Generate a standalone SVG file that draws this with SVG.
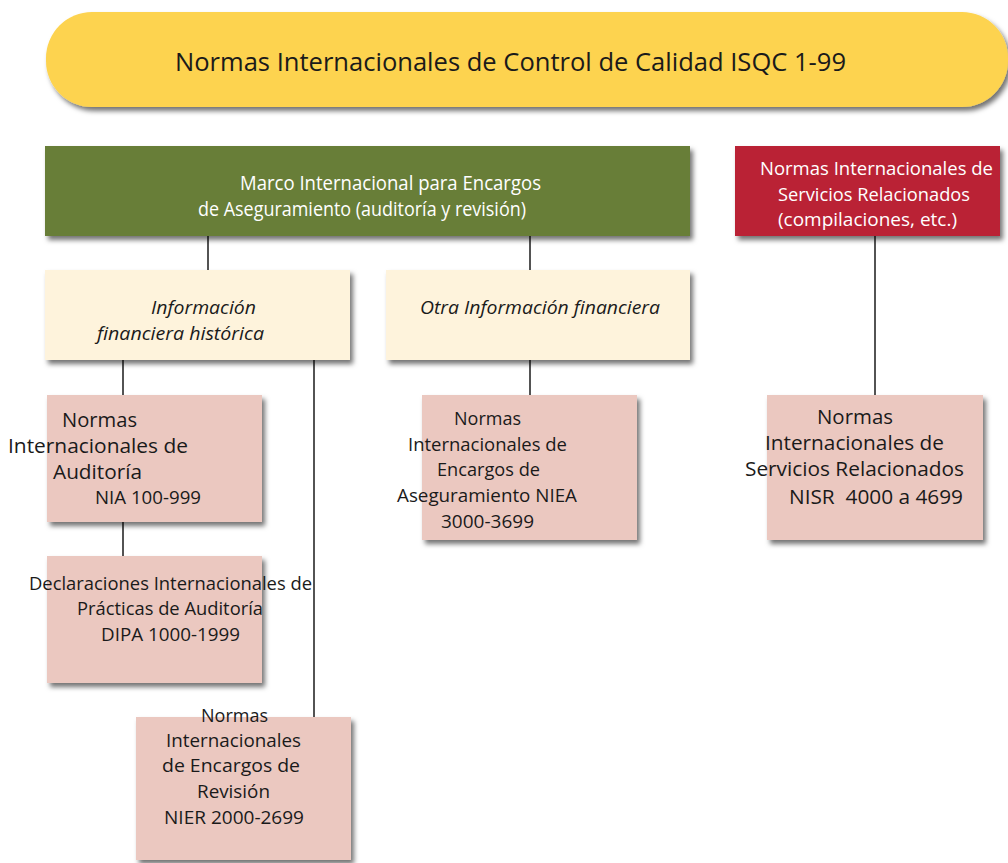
<svg xmlns="http://www.w3.org/2000/svg" width="1008" height="863" viewBox="0 0 1008 863">
  <defs>
    <filter id="shadow" x="-10%" y="-10%" width="125%" height="130%">
      <feDropShadow dx="3" dy="4" stdDeviation="2.5" flood-color="#000" flood-opacity="0.55"/>
    </filter>
  </defs>
  <style>
    text { font-family: "Open Sans", "Noto Sans", "Liberation Sans", sans-serif; fill: #1a1a1a; }
    .box { filter: url(#shadow); }
    .gold { fill: #FDD34F; }
    .green { fill: #687E37; }
    .red { fill: #BA2236; }
    .cream { fill: #FEF3DC; }
    .pink { fill: #EBC8C0; }
    .light { fill: #ffffff; }
    .it { font-style: italic; }
    .conn line { stroke: #1a1a1a; stroke-width: 1.5; }
  </style>

  <!-- connectors -->
  <g id="connectors" class="conn">
    <line x1="208" y1="236" x2="208" y2="270"/>
    <line x1="530" y1="236" x2="530" y2="270"/>
    <line x1="875" y1="236" x2="875" y2="395"/>
    <line x1="123" y1="360" x2="123" y2="395"/>
    <line x1="314" y1="360" x2="314" y2="717"/>
    <line x1="530" y1="360" x2="530" y2="395"/>
    <line x1="123" y1="522" x2="123" y2="556"/>
  </g>

  <!-- quality control standards banner -->
  <g id="isqc">
    <rect class="box gold" x="46" y="12" width="962" height="95" rx="46" ry="46"/>
    <text x="175" y="71" font-size="26" textLength="671" lengthAdjust="spacingAndGlyphs">Normas Internacionales de Control de Calidad ISQC 1-99</text>
  </g>

  <!-- assurance framework -->
  <g id="marco">
    <rect class="box green" x="45" y="146" width="645" height="90"/>
    <text class="light" x="240" y="190" font-size="20" textLength="301" lengthAdjust="spacingAndGlyphs">Marco Internacional para Encargos</text>
    <text class="light" x="198" y="216" font-size="20" textLength="328" lengthAdjust="spacingAndGlyphs">de Aseguramiento (auditoría y revisión)</text>
  </g>

  <!-- related services -->
  <g id="servicios">
    <rect class="box red" x="735" y="146" width="265" height="90"/>
    <text class="light" x="760" y="175" font-size="19" textLength="233" lengthAdjust="spacingAndGlyphs">Normas Internacionales de</text>
    <text class="light" x="778" y="201" font-size="19" textLength="192" lengthAdjust="spacingAndGlyphs">Servicios Relacionados</text>
    <text class="light" x="778" y="226" font-size="19" textLength="179" lengthAdjust="spacingAndGlyphs">(compilaciones, etc.)</text>
  </g>

  <!-- historical financial information -->
  <g id="historica">
    <rect class="box cream" x="45" y="270" width="305" height="90"/>
    <text class="it" x="151" y="314" font-size="18" textLength="105" lengthAdjust="spacingAndGlyphs">Información</text>
    <text class="it" x="97" y="340" font-size="18" textLength="167" lengthAdjust="spacingAndGlyphs">financiera histórica</text>
  </g>

  <!-- other financial information -->
  <g id="otra">
    <rect class="box cream" x="386" y="270" width="304" height="90"/>
    <text class="it" x="420" y="314" font-size="18" textLength="240" lengthAdjust="spacingAndGlyphs">Otra Información financiera</text>
  </g>

  <!-- auditing standards -->
  <g id="nia">
    <rect class="box pink" x="47" y="395" width="215" height="127"/>
    <text x="62" y="427" font-size="20" textLength="75" lengthAdjust="spacingAndGlyphs">Normas</text>
    <text x="8" y="453" font-size="20" textLength="180" lengthAdjust="spacingAndGlyphs">Internacionales de</text>
    <text x="53" y="479" font-size="20" textLength="89" lengthAdjust="spacingAndGlyphs">Auditoría</text>
    <text x="95" y="504" font-size="18" textLength="106" lengthAdjust="spacingAndGlyphs">NIA 100-999</text>
  </g>

  <!-- auditing practice statements -->
  <g id="dipa">
    <rect class="box pink" x="47" y="556" width="215" height="127"/>
    <text x="29" y="590" font-size="18" textLength="283" lengthAdjust="spacingAndGlyphs">Declaraciones Internacionales de</text>
    <text x="77" y="615" font-size="18" textLength="186" lengthAdjust="spacingAndGlyphs">Prácticas de Auditoría</text>
    <text x="101" y="641" font-size="18" textLength="139" lengthAdjust="spacingAndGlyphs">DIPA 1000-1999</text>
  </g>

  <!-- review engagements -->
  <g id="nier">
    <rect class="box pink" x="136" y="717" width="215" height="143"/>
    <text x="201" y="722" font-size="18" textLength="67" lengthAdjust="spacingAndGlyphs">Normas</text>
    <text x="166" y="747" font-size="18" textLength="135" lengthAdjust="spacingAndGlyphs">Internacionales</text>
    <text x="162" y="772" font-size="18" textLength="138" lengthAdjust="spacingAndGlyphs">de Encargos de</text>
    <text x="197" y="798" font-size="18" textLength="73" lengthAdjust="spacingAndGlyphs">Revisión</text>
    <text x="164" y="824" font-size="18" textLength="140" lengthAdjust="spacingAndGlyphs">NIER 2000-2699</text>
  </g>

  <!-- assurance engagements -->
  <g id="niea">
    <rect class="box pink" x="422" y="395" width="215" height="145"/>
    <text x="454" y="425" font-size="18" textLength="67" lengthAdjust="spacingAndGlyphs">Normas</text>
    <text x="408" y="451" font-size="18" textLength="159" lengthAdjust="spacingAndGlyphs">Internacionales de</text>
    <text x="437" y="476" font-size="18" textLength="103" lengthAdjust="spacingAndGlyphs">Encargos de</text>
    <text x="397" y="502" font-size="18" textLength="180" lengthAdjust="spacingAndGlyphs">Aseguramiento NIEA</text>
    <text x="441" y="528" font-size="18" textLength="93" lengthAdjust="spacingAndGlyphs">3000-3699</text>
  </g>

  <!-- related services standards -->
  <g id="nisr">
    <rect class="box pink" x="767" y="395" width="216" height="145"/>
    <text x="817" y="424" font-size="20" textLength="76" lengthAdjust="spacingAndGlyphs">Normas</text>
    <text x="765" y="450" font-size="20" textLength="179" lengthAdjust="spacingAndGlyphs">Internacionales de</text>
    <text x="745" y="476" font-size="20" textLength="219" lengthAdjust="spacingAndGlyphs">Servicios Relacionados</text>
    <text x="789" y="504" font-size="20" textLength="174" lengthAdjust="spacingAndGlyphs" xml:space="preserve">NISR  4000 a 4699</text>
  </g>
</svg>
